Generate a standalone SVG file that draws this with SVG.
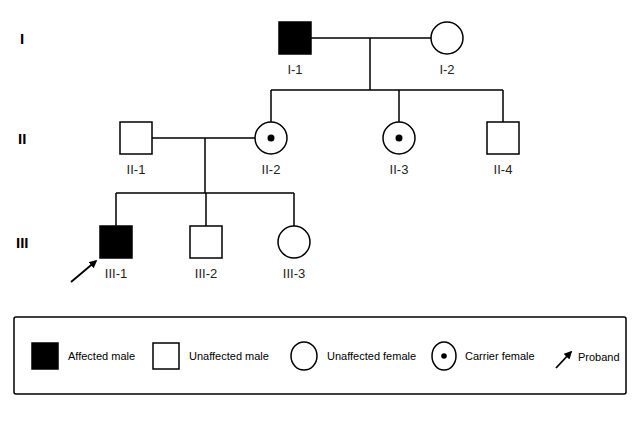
<svg xmlns="http://www.w3.org/2000/svg" width="640" height="425" viewBox="0 0 640 425">
<style>
.s{fill:#fff;stroke:#000;stroke-width:1.5}
.a{fill:#000;stroke:#000;stroke-width:1.5}
.l{stroke:#000;stroke-width:1.8;fill:none}
.t{font-family:"Liberation Sans",Arial,sans-serif;font-size:13px;fill:#222;text-anchor:middle}
.g{font-family:"Liberation Sans",Arial,sans-serif;font-size:15px;font-weight:bold;fill:#000}
.k{font-family:"Liberation Sans",Arial,sans-serif;font-size:11px;fill:#000}
</style>
<defs><marker id="ar" viewBox="0 0 10 10" refX="8" refY="5" markerWidth="4.5" markerHeight="4.5" orient="auto"><path d="M0,0L10,5L0,10z" fill="#000"/></marker></defs>
<rect width="640" height="425" fill="#fff"/>
<text class="g" x="20" y="44">I</text>
<text class="g" x="18" y="144">II</text>
<text class="g" x="16" y="248">III</text>
<g id="connectors">
<path class="l" style="stroke-width:1.5" d="M311,38H431M370,38V90M271,90H503M271,90V122M399,90V122M503,90V122M152,138H255M205,138V193M116,193H294M116,193V226M206,193V226M294,193V226"/>
<path class="l" d="M71,282L96,261" marker-end="url(#ar)"/>
</g>
<g id="I-1"><rect class="a" x="279" y="22" width="32" height="32"/><text class="t" x="295" y="74">I-1</text></g>
<g id="I-2"><circle class="s" cx="447" cy="38" r="16"/><text class="t" x="447" y="74">I-2</text></g>
<g id="II-1"><rect class="s" x="120" y="122" width="32" height="32"/><text class="t" x="136" y="174">II-1</text></g>
<g id="II-2"><circle class="s" cx="271" cy="138" r="16"/><circle cx="271" cy="138" r="3.5"/><text class="t" x="271" y="174">II-2</text></g>
<g id="II-3"><circle class="s" cx="399" cy="138" r="16"/><circle cx="399" cy="138" r="3.5"/><text class="t" x="399" y="174">II-3</text></g>
<g id="II-4"><rect class="s" x="487" y="122" width="32" height="32"/><text class="t" x="503" y="174">II-4</text></g>
<g id="III-1"><rect class="a" x="100" y="226" width="32" height="32"/><text class="t" x="116" y="278">III-1</text></g>
<g id="III-2"><rect class="s" x="190" y="226" width="32" height="32"/><text class="t" x="206" y="278">III-2</text></g>
<g id="III-3"><circle class="s" cx="294" cy="242" r="16"/><text class="t" x="294" y="278">III-3</text></g>
<g id="legend">
<rect x="14" y="317" width="612" height="77" rx="2" fill="#fff" stroke="#000" stroke-width="1.5"/>
<rect class="a" x="32" y="343" width="26" height="26"/><text class="k" x="68" y="360">Affected male</text>
<rect class="s" x="153" y="343" width="26" height="26"/><text class="k" x="189" y="360">Unaffected male</text>
<ellipse class="s" cx="304" cy="356" rx="13" ry="14"/><text class="k" x="327" y="360">Unaffected female</text>
<ellipse class="s" cx="444" cy="356" rx="12" ry="14"/><circle cx="444" cy="356" r="2.8"/><text class="k" x="465" y="360">Carrier female</text>
<path class="l" d="M556,368L571,352" marker-end="url(#ar)"/><text class="k" x="578" y="361">Proband</text>
</g>
</svg>
